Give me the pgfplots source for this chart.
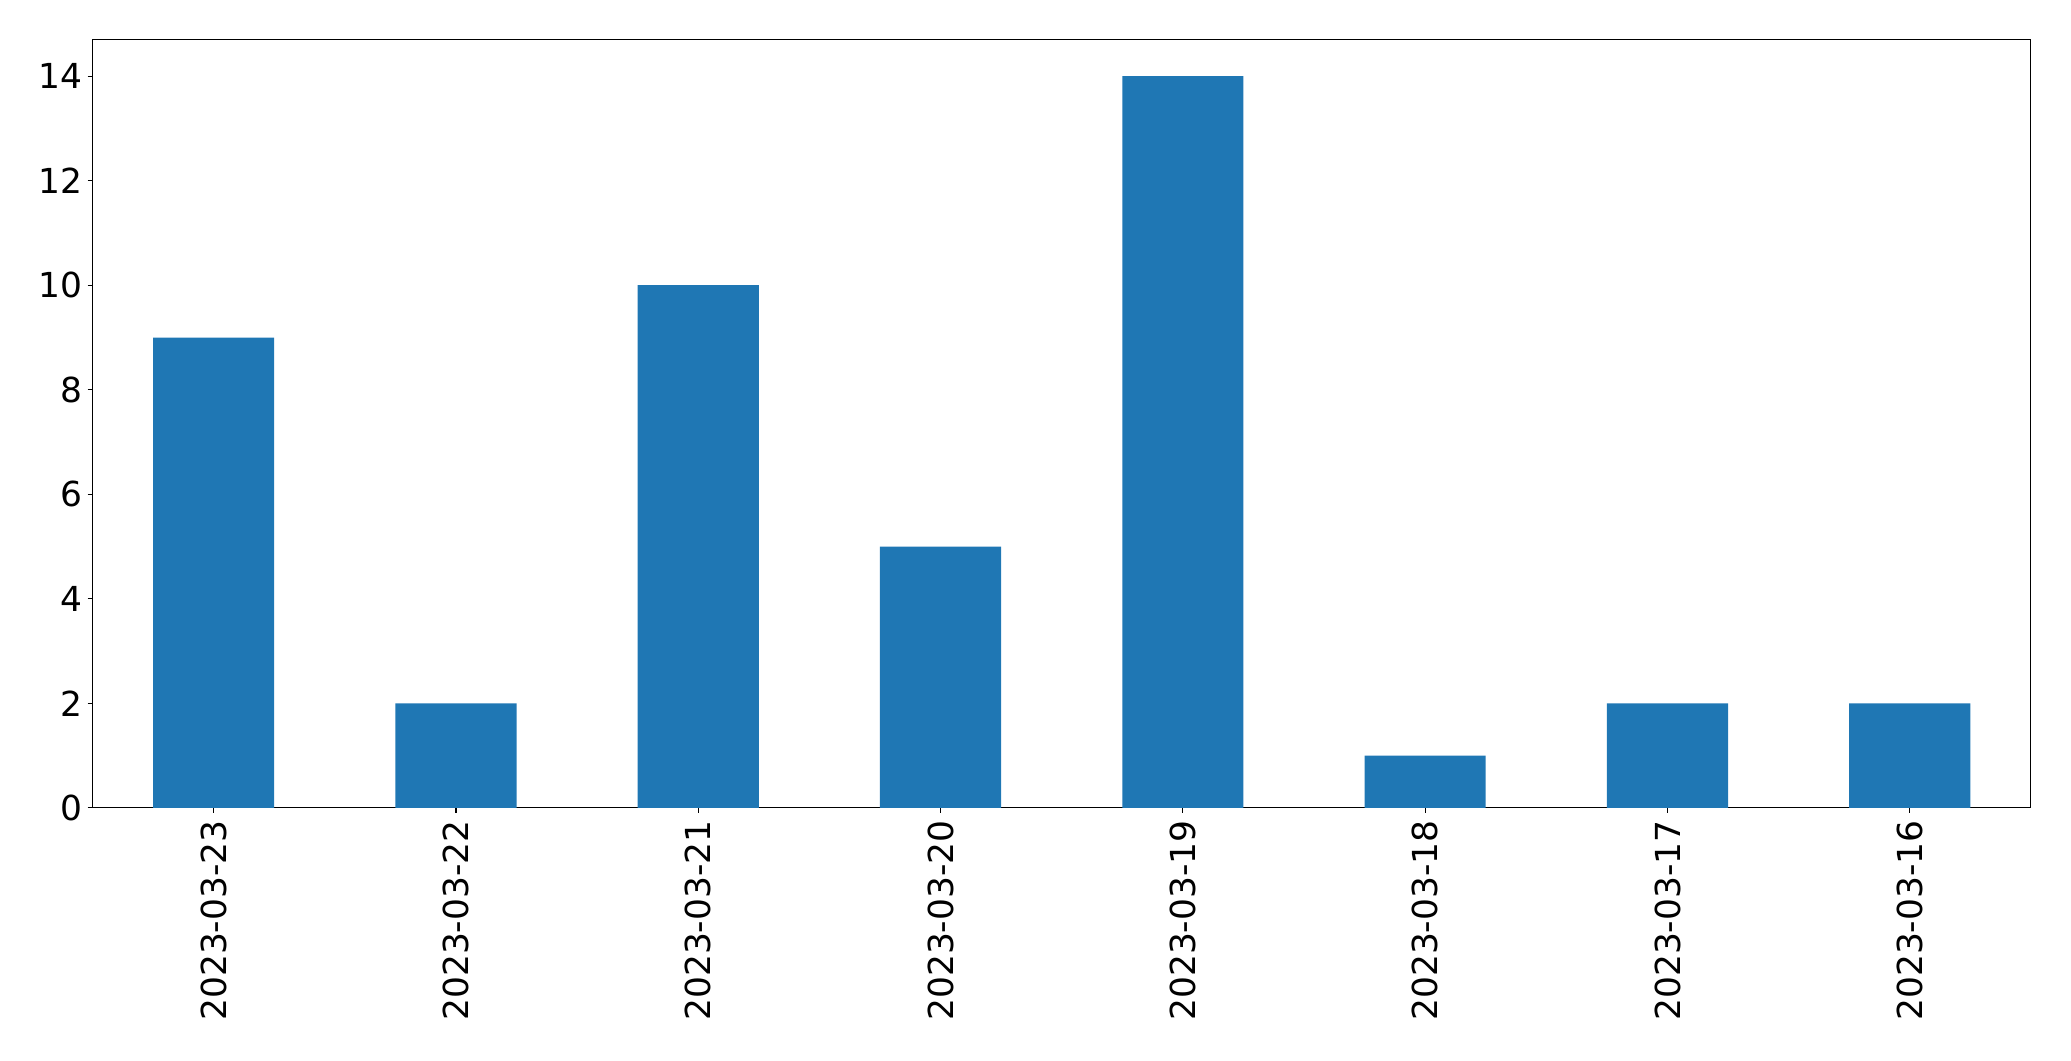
\documentclass[border=0pt]{standalone}
\usepackage{pgfplots}
\pgfplotsset{compat=1.18}
\usepackage{fontspec}
\setmainfont{DejaVu Sans}
\definecolor{mplblue}{HTML}{1F77B4}
\begin{document}
\begin{tikzpicture}
\path[use as bounding box] (-66.6pt,-182.1pt) rectangle (1424.5pt,581.7pt);
\begin{axis}[
  at={(0,0)}, anchor=south west,
  scale only axis,
  width=1395.7pt, height=553.2pt,
  xmin=-0.5, xmax=7.5, ymin=0, ymax=14.7,
  xtick={0,1,2,3,4,5,6,7},
  xticklabels={2023-03-23,2023-03-22,2023-03-21,2023-03-20,2023-03-19,2023-03-18,2023-03-17,2023-03-16},
  ytick={0,2,4,6,8,10,12,14},
  x tick label style={rotate=90, anchor=east, font=\fontsize{24.8}{29}\selectfont},
  y tick label style={font=\fontsize{24.8}{29}\selectfont},
  /pgf/number format/assume math mode=true,
  tick align=outside,
  major tick length=3.5pt,
  tick style={black, line width=0.8pt},
  xtick pos=bottom, ytick pos=left,
  axis line style={line width=0.8pt},
  xticklabel shift=2pt,
  yticklabel shift=0pt,
]
\addplot[ybar, bar width=0.5, fill=mplblue, draw=none] coordinates {
(0,9) (1,2) (2,10) (3,5) (4,14) (5,1) (6,2) (7,2)
};
\end{axis}
\end{tikzpicture}
\end{document}
